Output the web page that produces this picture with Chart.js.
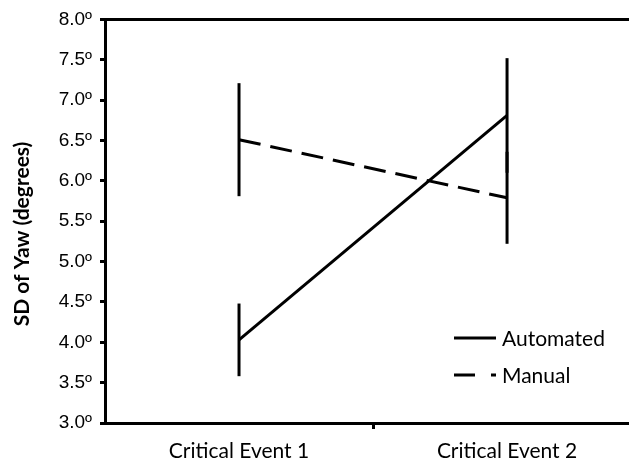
<!DOCTYPE html>
<html>
<head>
<meta charset="utf-8">
<script src="https://cdn.jsdelivr.net/npm/chart.js@4"></script>
<style>
html,body{margin:0;padding:0;background:#fff;}
#wrap{width:629px;height:463px;position:relative;}
</style>
</head>
<body>
<div id="wrap"><canvas id="c" width="629" height="463"></canvas></div>
<script>
const categories = ['Critical Event 1', 'Critical Event 2'];
const seriesNames = ['Automated', 'Manual'];
const automatedMeans = [4.03, 6.81];
const automatedErrors = [0.45, 0.71];
const manualMeans = [6.51, 5.79];
const manualErrors = [0.70, 0.57];
const yTickValues = [3.0, 3.5, 4.0, 4.5, 5.0, 5.5, 6.0, 6.5, 7.0, 7.5, 8.0];
const yTitle = 'SD of Yaw (degrees)';

const BLACK = '#000000';
const toPoints = arr => arr.map((v, i) => ({x: i + 1, y: v}));

const errorBarPlugin = {
  id: 'errorBars',
  afterDatasetsDraw(chart) {
    const ctx = chart.ctx;
    const xs = chart.scales.x, ys = chart.scales.y;
    ctx.save();
    ctx.strokeStyle = BLACK;
    ctx.lineWidth = 3;
    ctx.lineCap = 'butt';
    chart.data.datasets.forEach(ds => {
      ds.data.forEach((p, i) => {
        const e = ds.errors[i];
        const x = xs.getPixelForValue(p.x);
        ctx.beginPath();
        ctx.moveTo(x, ys.getPixelForValue(p.y + e));
        ctx.lineTo(x, ys.getPixelForValue(p.y - e));
        ctx.stroke();
      });
    });
    ctx.restore();
  }
};

const legendPlugin = {
  id: 'insideLegend',
  afterDraw(chart) {
    const ctx = chart.ctx;
    const area = chart.chartArea;
    const rowsY = [area.bottom - 85, area.bottom - 48];
    ctx.save();
    chart.data.datasets.forEach((ds, i) => {
      const y = rowsY[i];
      ctx.strokeStyle = BLACK;
      ctx.lineWidth = 3;
      ctx.setLineDash(ds.borderDash && ds.borderDash.length ? [21, 16] : []);
      ctx.beginPath();
      ctx.moveTo(454, y);
      ctx.lineTo(496, y);
      ctx.stroke();
      ctx.setLineDash([]);
      ctx.fillStyle = BLACK;
      ctx.font = '21px Lato';
      ctx.textAlign = 'left';
      ctx.textBaseline = 'middle';
      ctx.fillText(ds.label, 502, y + 1);
    });
    ctx.restore();
  }
};

new Chart(document.getElementById('c'), {
  type: 'line',
  data: {
    datasets: [
      {
        label: seriesNames[0],
        data: toPoints(automatedMeans),
        errors: automatedErrors,
        borderColor: BLACK,
        borderWidth: 3,
        pointRadius: 0,
        fill: false,
        tension: 0
      },
      {
        label: seriesNames[1],
        data: toPoints(manualMeans),
        errors: manualErrors,
        borderColor: BLACK,
        borderWidth: 3,
        borderDash: [22, 10],
        pointRadius: 0,
        fill: false,
        tension: 0
      }
    ]
  },
  options: {
    responsive: false,
    animation: false,
    layout: {padding: {top: 17, right: 0, bottom: 0, left: 0}},
    plugins: {legend: {display: false}, tooltip: {enabled: false}},
    scales: {
      x: {
        type: 'linear',
        min: 0.5,
        max: 2.455,
        afterBuildTicks: s => { s.ticks = [{value: 1}, {value: 1.5}, {value: 2}]; },
        afterFit: s => { s.height = 40; },
        border: {display: true, color: BLACK, width: 3},
        grid: {
          drawOnChartArea: false,
          drawTicks: true,
          tickLength: 6,
          tickWidth: 3,
          tickColor: c => (c.tick && c.tick.value === 1.5) ? BLACK : 'rgba(0,0,0,0)'
        },
        ticks: {
          autoSkip: false,
          maxRotation: 0,
          padding: 10,
          color: BLACK,
          font: {family: 'Lato', size: 21},
          callback: v => Number.isInteger(v) ? categories[v - 1] : ''
        }
      },
      y: {
        type: 'linear',
        min: 3,
        max: 8,
        afterBuildTicks: s => { s.ticks = yTickValues.map(v => ({value: v})); },
        afterFit: s => { s.width = 105; },
        border: {display: true, color: BLACK, width: 3},
        grid: {
          drawOnChartArea: true,
          drawTicks: true,
          tickLength: 5,
          tickWidth: 3,
          lineWidth: 3,
          tickColor: BLACK,
          color: c => (c.tick && c.tick.value === 8) ? BLACK : 'rgba(0,0,0,0)'
        },
        ticks: {
          padding: 8,
          color: BLACK,
          font: {family: 'Liberation Sans', size: 19},
          callback: v => v.toFixed(1) + 'º'
        },
        title: {
          display: true,
          text: yTitle + '\u00a0\u00a0\u00a0\u00a0\u00a0',
          color: BLACK,
          font: {family: 'Lato', size: 21, weight: 'bold'},
          padding: {top: 10, bottom: 0}
        }
      }
    }
  },
  plugins: [errorBarPlugin, legendPlugin]
});
</script>
</body>
</html>
